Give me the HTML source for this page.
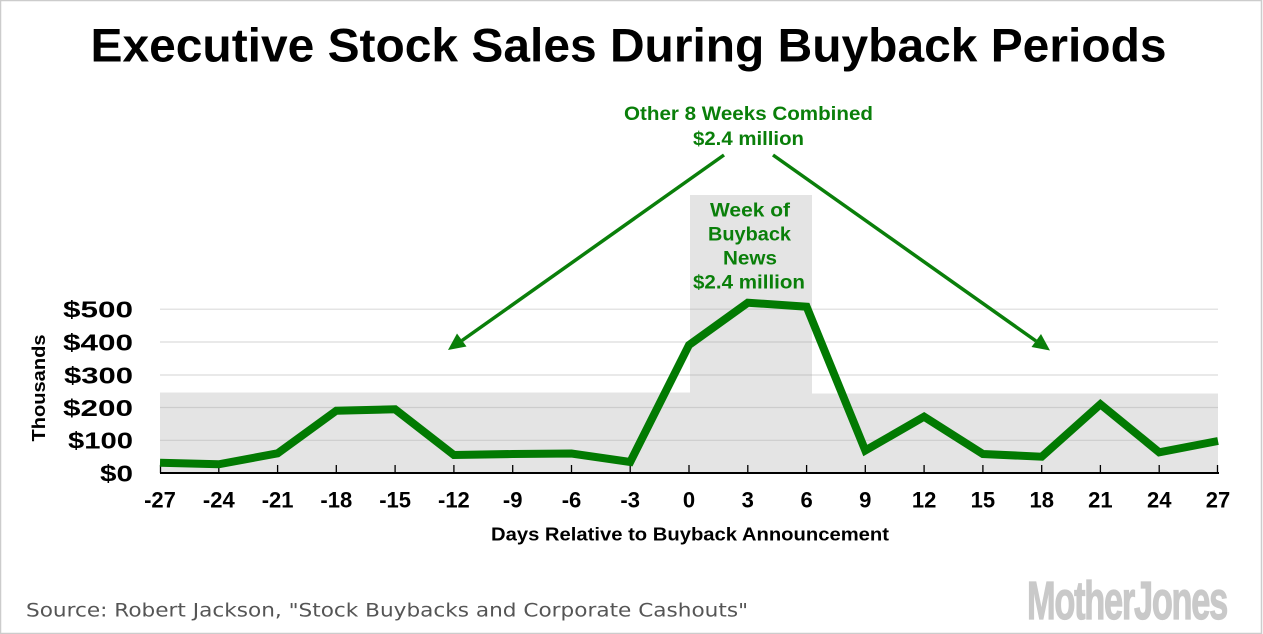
<!DOCTYPE html>
<html>
<head>
<meta charset="utf-8">
<style>
  html, body { margin: 0; padding: 0; background: #fff; }
  svg { display: block; }
  text { font-family: "Liberation Sans", "DejaVu Sans", sans-serif; }
</style>
</head>
<body>
<svg width="1263" height="634" viewBox="0 0 1263 634" xmlns="http://www.w3.org/2000/svg">
  <rect x="0" y="0" width="1263" height="634" fill="#fff"/>
  <rect x="0.5" y="0.5" width="1261" height="633" fill="none" stroke="#cccccc" stroke-width="1.5"/>

  <!-- Title -->
  <text x="90.5" y="61.5" font-size="47" font-weight="bold" fill="#000" textLength="1076" lengthAdjust="spacingAndGlyphs">Executive Stock Sales During Buyback Periods</text>

  <!-- Gray bands -->
  <rect x="160" y="392.5" width="530" height="80.5" fill="#e4e4e4"/>
  <rect x="690" y="195" width="122" height="278" fill="#e4e4e4"/>
  <rect x="812" y="393.5" width="406" height="79.5" fill="#e4e4e4"/>

  <!-- Gridlines -->
  <g stroke-width="1.2">
    <line x1="160" y1="309.2" x2="1218" y2="309.2" stroke="#dcdcdc"/>
    <line x1="160" y1="342" x2="1218" y2="342" stroke="#dcdcdc"/>
    <line x1="160" y1="375" x2="1218" y2="375" stroke="#dcdcdc"/>
    <line x1="160" y1="407.5" x2="1218" y2="407.5" stroke="#cccccc"/>
    <line x1="160" y1="440.3" x2="1218" y2="440.3" stroke="#cccccc"/>
    <line x1="690" y1="309.2" x2="812" y2="309.2" stroke="#cccccc"/>
    <line x1="690" y1="342" x2="812" y2="342" stroke="#cccccc"/>
    <line x1="690" y1="375" x2="812" y2="375" stroke="#cccccc"/>
  </g>

  <!-- Axis -->
  <line x1="160" y1="473" x2="1219" y2="473" stroke="#000" stroke-width="2"/>
  <g stroke="#000" stroke-width="1.3">
    <line x1="160.5" y1="465" x2="160.5" y2="473"/>
    <line x1="218.8" y1="465" x2="218.8" y2="473"/>
    <line x1="277.6" y1="465" x2="277.6" y2="473"/>
    <line x1="336.3" y1="465" x2="336.3" y2="473"/>
    <line x1="395.1" y1="465" x2="395.1" y2="473"/>
    <line x1="453.9" y1="465" x2="453.9" y2="473"/>
    <line x1="512.7" y1="465" x2="512.7" y2="473"/>
    <line x1="571.5" y1="465" x2="571.5" y2="473"/>
    <line x1="630.2" y1="465" x2="630.2" y2="473"/>
    <line x1="689" y1="465" x2="689" y2="473"/>
    <line x1="747.8" y1="465" x2="747.8" y2="473"/>
    <line x1="806.6" y1="465" x2="806.6" y2="473"/>
    <line x1="865.3" y1="465" x2="865.3" y2="473"/>
    <line x1="924.1" y1="465" x2="924.1" y2="473"/>
    <line x1="982.9" y1="465" x2="982.9" y2="473"/>
    <line x1="1041.7" y1="465" x2="1041.7" y2="473"/>
    <line x1="1100.4" y1="465" x2="1100.4" y2="473"/>
    <line x1="1159.2" y1="465" x2="1159.2" y2="473"/>
    <line x1="1217.5" y1="465" x2="1217.5" y2="473"/>
  </g>

  <!-- Data line -->
  <polyline fill="none" stroke="#027a02" stroke-width="8" stroke-linejoin="miter" stroke-miterlimit="3"
    points="160,462.7 218.8,464.3 277.6,453.3 336.3,410.7 395.1,409.3 453.9,455 512.7,454 571.5,453.5 630.2,462 689,345 747.8,302.7 806.6,306.7 865.3,450.5 924.1,416.7 982.9,454 1041.7,456.7 1100.4,404.3 1159.2,452.3 1218,441"/>

  <!-- Y labels -->
  <g font-size="23" font-weight="bold" fill="#000" text-anchor="end">
    <text x="133" y="317.5" textLength="70" lengthAdjust="spacingAndGlyphs">$500</text>
    <text x="133" y="350.5" textLength="70" lengthAdjust="spacingAndGlyphs">$400</text>
    <text x="133" y="383.5" textLength="69" lengthAdjust="spacingAndGlyphs">$300</text>
    <text x="133" y="416" textLength="70" lengthAdjust="spacingAndGlyphs">$200</text>
    <text x="133" y="448.5" textLength="65" lengthAdjust="spacingAndGlyphs">$100</text>
    <text x="133" y="481.5" textLength="33" lengthAdjust="spacingAndGlyphs">$0</text>
  </g>
  <text transform="translate(45,388) rotate(-90)" font-size="18" font-weight="bold" fill="#000" text-anchor="middle" textLength="107" lengthAdjust="spacingAndGlyphs">Thousands</text>

  <!-- X labels -->
  <g font-size="22" font-weight="bold" fill="#000" text-anchor="middle">
    <text x="160" y="507.5">-27</text>
    <text x="218.8" y="507.5">-24</text>
    <text x="277.6" y="507.5">-21</text>
    <text x="336.3" y="507.5">-18</text>
    <text x="395.1" y="507.5">-15</text>
    <text x="453.9" y="507.5">-12</text>
    <text x="512.7" y="507.5">-9</text>
    <text x="571.5" y="507.5">-6</text>
    <text x="630.2" y="507.5">-3</text>
    <text x="689" y="507.5">0</text>
    <text x="747.8" y="507.5">3</text>
    <text x="806.6" y="507.5">6</text>
    <text x="865.3" y="507.5">9</text>
    <text x="924.1" y="507.5">12</text>
    <text x="982.9" y="507.5">15</text>
    <text x="1041.7" y="507.5">18</text>
    <text x="1100.4" y="507.5">21</text>
    <text x="1159.2" y="507.5">24</text>
    <text x="1218" y="507.5">27</text>
  </g>
  <text x="491" y="540.7" font-size="18" font-weight="bold" fill="#000" textLength="398" lengthAdjust="spacingAndGlyphs">Days Relative to Buyback Announcement</text>

  <!-- Annotations -->
  <g font-size="19" font-weight="bold" fill="#0a7f0a">
    <text x="624" y="120" textLength="249" lengthAdjust="spacingAndGlyphs">Other 8 Weeks Combined</text>
    <text x="693" y="145" textLength="111" lengthAdjust="spacingAndGlyphs">$2.4 million</text>
    <text x="710" y="216.7" textLength="80" lengthAdjust="spacingAndGlyphs">Week of</text>
    <text x="708" y="240.7" textLength="83" lengthAdjust="spacingAndGlyphs">Buyback</text>
    <text x="723" y="264.3" textLength="54" lengthAdjust="spacingAndGlyphs">News</text>
    <text x="693" y="288.3" textLength="112" lengthAdjust="spacingAndGlyphs">$2.4 million</text>
  </g>

  <!-- Arrows -->
  <g stroke="#0a7f0a" stroke-width="3.5" fill="none">
    <line x1="724" y1="155" x2="462" y2="340.5"/>
    <line x1="773" y1="155" x2="1036" y2="341"/>
  </g>
  <g fill="#0a7f0a">
    <polygon points="448,350 466.5,346.5 457,333.5"/>
    <polygon points="1050,350.5 1031.5,347 1041,334"/>
  </g>

  <!-- Source -->
  <text x="26" y="616.7" font-size="19" fill="#555" textLength="722" lengthAdjust="spacingAndGlyphs" style="font-family:'DejaVu Sans', sans-serif">Source: Robert Jackson, "Stock Buybacks and Corporate Cashouts"</text>

  <!-- Logo -->
  <text x="1027" y="619" font-size="54" font-weight="bold" fill="#c9c9c9" stroke="#c9c9c9" stroke-width="1.2" textLength="200" lengthAdjust="spacingAndGlyphs" style="font-family:'Liberation Sans Narrow','Liberation Sans',sans-serif; letter-spacing:-2px">MotherJones</text>
</svg>
</body>
</html>
